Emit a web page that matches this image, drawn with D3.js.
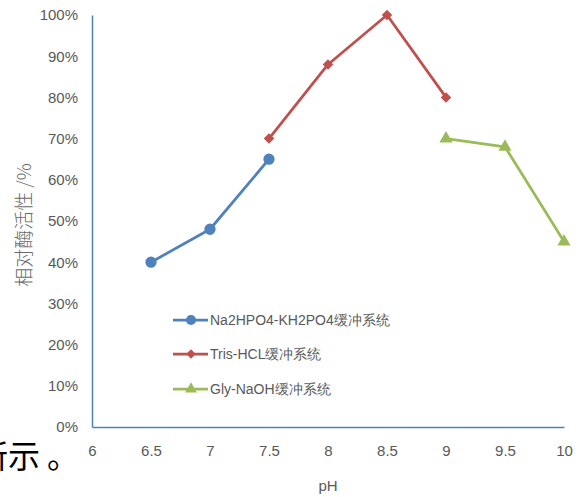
<!DOCTYPE html>
<html>
<head>
<meta charset="utf-8">
<script src="https://cdn.jsdelivr.net/npm/d3@7/dist/d3.min.js"></script>
<style>
  html, body { margin: 0; padding: 0; background: #fff; }
  svg { display: block; }
  text { font-family: "Liberation Sans Narrow", "Liberation Sans", Arial, sans-serif; }
</style>
</head>
<body>
<svg id="chart" width="584" height="497"></svg>
<script>
// pH values and relative enzyme activity (%) for each buffer system
const phosphatePH = [6.5, 7, 7.5];
const phosphateAct = [40, 48, 65];
const trisPH = [7.5, 8, 8.5, 9];
const trisAct = [70, 88, 100, 80];
const glyPH = [9, 9.5, 10];
const glyAct = [70, 68, 45];

const seriesNames = ["Na2HPO4-KH2PO4缓冲系统", "Tris-HCL缓冲系统", "Gly-NaOH缓冲系统"];
const xTicks = [6, 6.5, 7, 7.5, 8, 8.5, 9, 9.5, 10];
const yTicks = [0, 10, 20, 30, 40, 50, 60, 70, 80, 90, 100];

const colors = ["#4F81BD", "#C0504D", "#9BBB59"];

// marker shapes: circle, diamond (a square turned 45°), triangle
const markers = [
  { type: d3.symbolCircle, size: 100, rotate: 0 },
  { type: d3.symbolSquare, size: 55, rotate: 45 },
  { type: d3.symbolTriangle, size: 75, rotate: 0 }
];

const svg = d3.select("#chart");
const x = d3.scaleLinear().domain([6, 10]).range([92, 564]);
const y = d3.scaleLinear().domain([0, 100]).range([427, 15]);

// fragment of surrounding document text at lower left
const frag = svg.append("text")
  .attr("x", -24).attr("y", 468)
  .attr("font-size", 32)
  .style("font-family", "'Noto Sans CJK SC', sans-serif")
  .attr("fill", "#000");
frag.append("tspan").text("所示");
frag.append("tspan").attr("dx", 7).text("。");

// axes
const axisColor = "#4F81BD";
const yAxis = svg.append("g").attr("transform", `translate(${x(6)},0)`)
  .call(d3.axisLeft(y).tickValues(yTicks).tickSize(0).tickPadding(14).tickFormat(d => d + "%"));
const xAxis = svg.append("g").attr("transform", `translate(0,${y(0)})`)
  .call(d3.axisBottom(x).tickValues(xTicks).tickSize(0).tickPadding(18).tickFormat(d3.format("")));
[xAxis, yAxis].forEach(g => {
  g.select(".domain").attr("stroke", axisColor).attr("stroke-width", 1.5);
  g.selectAll("text").attr("fill", "#595959").attr("font-size", 15)
    .style("font-family", "'Liberation Sans Narrow', 'Liberation Sans', Arial, sans-serif");
});

// axis titles
svg.append("text")
  .attr("transform", `translate(31,225) rotate(-90)`)
  .attr("text-anchor", "middle")
  .attr("font-size", 19)
  .attr("fill", "#6a6a6a")
  .style("font-family", "'Noto Sans CJK SC', sans-serif")
  .style("font-weight", 300)
  .text("相对酶活性 /%");
svg.append("text")
  .attr("x", x(8)).attr("y", 491)
  .attr("text-anchor", "middle")
  .attr("font-size", 15)
  .attr("fill", "#595959")
  .text("pH");

function markerPath(m, scale) {
  return d3.symbol().type(m.type).size(m.size * scale)();
}

// series
const series = [
  { xs: phosphatePH, ys: phosphateAct },
  { xs: trisPH, ys: trisAct },
  { xs: glyPH, ys: glyAct }
];
const line = d3.line().x(d => x(d[0])).y(d => y(d[1]));
series.forEach((s, i) => {
  const pts = s.xs.map((v, j) => [v, s.ys[j]]);
  svg.append("path").datum(pts)
    .attr("d", line)
    .attr("fill", "none")
    .attr("stroke", colors[i])
    .attr("stroke-width", 2.75)
    .attr("stroke-linejoin", "round");
  svg.selectAll(null).data(pts).enter().append("path")
    .attr("transform", d => `translate(${x(d[0])},${y(d[1])}) rotate(${markers[i].rotate})`)
    .attr("d", markerPath(markers[i], 1))
    .attr("fill", colors[i]);
});

// legend
const legend = svg.append("g");
const legendY = [320, 354, 389];
seriesNames.forEach((name, i) => {
  const g = legend.append("g").attr("transform", `translate(173,${legendY[i]})`);
  g.append("line").attr("x1", 0).attr("x2", 35).attr("y1", 0).attr("y2", 0)
    .attr("stroke", colors[i]).attr("stroke-width", 2.75);
  g.append("path").attr("transform", `translate(18,0) rotate(${markers[i].rotate})`)
    .attr("d", markerPath(markers[i], 0.8))
    .attr("fill", colors[i]);
  g.append("text").attr("x", 37).attr("y", 5)
    .attr("font-size", 14).attr("fill", "#595959")
    .text(name);
});
</script>
</body>
</html>
